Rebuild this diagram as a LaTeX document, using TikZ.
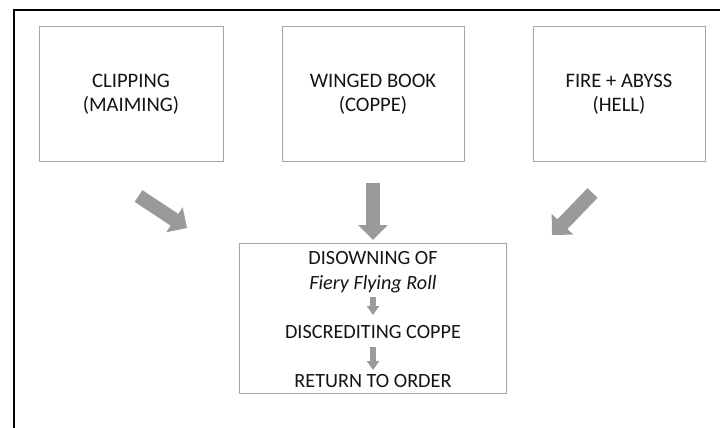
\documentclass[tikz,border=0pt]{standalone}
\usepackage{fontspec}
\setmainfont{Carlito}
\usetikzlibrary{arrows.meta}
\definecolor{boxline}{HTML}{A6A6A6}
\definecolor{arrfill}{HTML}{9A9A9A}
\definecolor{txt}{HTML}{141414}
\tikzset{
  topbox/.style={draw=boxline, line width=1pt, minimum width=#1, minimum height=134pt, inner sep=0pt, align=center, text=txt, font=\fontsize{20.6}{24}\selectfont},
  bigarrow/.style={draw=arrfill, line width=14pt, line cap=butt, -{Triangle[width=29pt,length=15pt]}},
  smallarrow/.style={draw=arrfill, line width=6pt, line cap=butt, -{Triangle[width=12pt,length=9pt]}},
  linetext/.style={anchor=base, text=txt, inner sep=0pt, font=\fontsize{20.2}{23}\selectfont},
  frameline/.style={draw=black, line width=2pt}
}
\begin{document}
\begin{tikzpicture}[x=1pt,y=-1pt]
\useasboundingbox (0,0) rectangle (720,428);
% outer frame (partial)
\coordinate (fa) at (14,428);
\coordinate (fb) at (14,10);
\coordinate (fc) at (721,10);
\draw[frameline] (fa) -- (fb) -- (fc);
% top boxes
\node[topbox=184pt] (b1) at (131,94) {CLIPPING\\(MAIMING)};
\node[topbox=182pt] (b2) at (373,94) {WINGED BOOK\\(COPPE)};
\node[topbox=172pt] (b3) at (619,94) {FIRE + ABYSS\\(HELL)};
% bottom box
\node[draw=boxline, line width=1pt, minimum width=267pt, minimum height=150pt, inner sep=0pt] (b4) at (372.5,318) {};
\node[linetext] (t1) at (373,264) {DISOWNING OF};
\node[linetext] (t2) at (373,289) {\itshape Fiery Flying Roll};
\node[linetext] (t3) at (373,338) {DISCREDITING COPPE};
\node[linetext] (t4) at (373,387) {RETURN TO ORDER};
% big arrows
\coordinate (a1s) at (138.5,196);
\coordinate (a1e) at (187,228);
\coordinate (a2s) at (373,183);
\coordinate (a2e) at (373,240);
\coordinate (a3s) at (592.5,193);
\coordinate (a3e) at (552,235);
\draw[bigarrow] (a1s) -- (a1e);
\draw[bigarrow] (a2s) -- (a2e);
\draw[bigarrow] (a3s) -- (a3e);
% small arrows
\coordinate (s1s) at (373,297);
\coordinate (s1e) at (373,315);
\coordinate (s2s) at (373,347);
\coordinate (s2e) at (373,370);
\draw[smallarrow] (s1s) -- (s1e);
\draw[smallarrow] (s2s) -- (s2e);
\end{tikzpicture}
\end{document}
